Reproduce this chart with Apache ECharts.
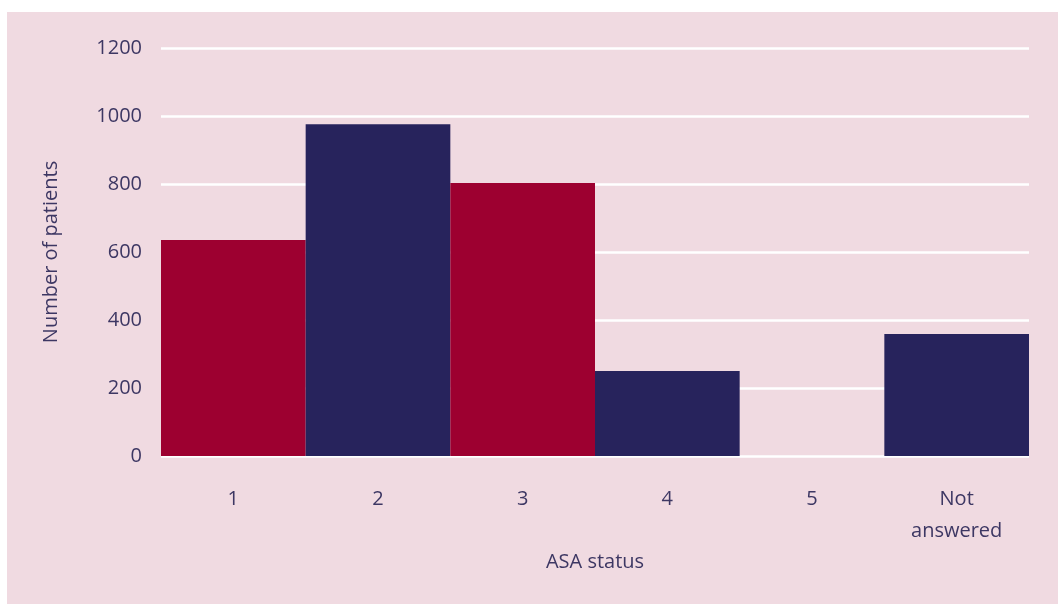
<!DOCTYPE html>
<html>
<head>
<meta charset="utf-8">
<script src="https://cdn.jsdelivr.net/npm/echarts@6/dist/echarts.min.js"></script>
<style>
html, body { margin: 0; padding: 0; background: #ffffff; }
#asa { width: 1058px; height: 604px; }
</style>
</head>
<body>
<div id="asa"></div>
<script>
var mychart = echarts.init(document.getElementById("asa"));

const categories = ['1', '2', '3', '4', '5', 'Not\nanswered'];
const patients = [635, 976, 803, 250, 0, 359];
const barColors = ['#9d0030', '#27235c'];
const yTicks = [0, 200, 400, 600, 800, 1000, 1200];

const textColor = '#3d3763';

option = {
    backgroundColor: '#ffffff',
    textStyle: { fontFamily: 'Open Sans' },
    graphic: [{
        type: 'rect',
        z: -10,
        shape: { x: 7, y: 12, width: 1051, height: 592 },
        style: { fill: '#f0dae1' }
    }],
    grid: {
        left: 161,
        right: 29,
        top: 48,
        bottom: 148
    },
    xAxis: {
        type: 'category',
        data: categories,
        name: 'ASA status',
        nameLocation: 'middle',
        nameGap: 82,
        nameTextStyle: { color: textColor, fontSize: 20 },
        axisLine: { show: false },
        axisTick: { show: false },
        axisLabel: {
            color: textColor,
            fontSize: 20,
            margin: 27,
            lineHeight: 32
        }
    },
    yAxis: {
        type: 'value',
        min: yTicks[0],
        max: yTicks[yTicks.length - 1],
        interval: yTicks[1] - yTicks[0],
        name: 'Number of patients',
        nameLocation: 'middle',
        nameGap: 100,
        nameTextStyle: { color: textColor, fontSize: 20 },
        axisLine: { show: false },
        axisTick: { show: false },
        axisLabel: {
            color: textColor,
            fontSize: 20,
            margin: 19,
            formatter: function (v) { return String(v); }
        },
        splitLine: {
            show: true,
            lineStyle: { color: '#ffffff', width: 2.5 }
        }
    },
    series: [
        {
            type: 'bar',
            barCategoryGap: 0,
            data: patients.map(function (v, i) {
                return { value: v, itemStyle: { color: barColors[i % 2] } };
            })
        }
    ]
};
mychart.setOption(option, true);
</script>
</body>
</html>
